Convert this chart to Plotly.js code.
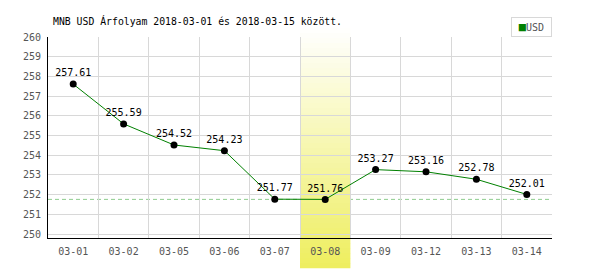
<!DOCTYPE html>
<html>
<head>
<meta charset="utf-8">
<script src="https://cdn.plot.ly/plotly-3.0.1.min.js"></script>
<style>html,body{margin:0;padding:0;background:#fff;}#chart{width:600px;height:270px;}</style>
</head>
<body>
<div id="chart"></div>
<script>
// Data
var categories = ['03-01','03-02','03-05','03-06','03-07','03-08','03-09','03-12','03-13','03-14'];
var usdValues = [257.61, 255.59, 254.52, 254.23, 251.77, 251.76, 253.27, 253.16, 252.78, 252.01];
var yTicks = [250, 251, 252, 253, 254, 255, 256, 257, 258, 259, 260];
var highlightCategory = '03-08';
var seriesName = 'USD';
var titleText = 'MNB USD Árfolyam 2018-03-01 és 2018-03-15 között.';

var mono = 'DejaVu Sans Mono, monospace';
var labels = usdValues.map(function(v){ return v.toFixed(2); });

var trace = {
  type: 'scatter',
  mode: 'lines+markers+text',
  x: categories,
  y: usdValues,
  text: labels,
  textposition: 'top center',
  textfont: {family: mono, size: 10, color: '#000'},
  line: {color: '#008000', width: 1},
  marker: {color: '#000', size: 7},
  cliponaxis: false,
  showlegend: false,
  hoverinfo: 'skip'
};

// highlight band (vertical gradient white -> yellow) built from thin strips
var shapes = [];
var minVal = Math.min.apply(null, usdValues);
shapes.push({
  type: 'line', layer: 'below', xref: 'paper', yref: 'y',
  x0: 0, x1: 1, y0: minVal, y1: minVal,
  line: {color: '#8fcc8f', width: 1, dash: '4px,3px'}
});
var hi = categories.indexOf(highlightCategory);
var bandTop = 1.045, bandBottom = -0.149, nStrips = 48;
var c0 = [255, 255, 255], c1 = [238, 238, 94];
for (var i = 0; i < nStrips; i++) {
  var f = (i + 0.5) / nStrips;
  var col = 'rgb(' + c0.map(function(c, k){ return Math.round(c + (c1[k] - c) * f); }).join(',') + ')';
  var yTop = bandTop - (bandTop - bandBottom) * i / nStrips;
  var yBot = bandTop - (bandTop - bandBottom) * (i + 1) / nStrips;
  shapes.push({
    type: 'rect', layer: 'between', xref: 'x', yref: 'paper',
    x0: hi - 0.5, x1: hi + 0.5, y0: yBot - 0.002, y1: yTop,
    fillcolor: col, line: {width: 0}
  });
}

var layout = {
  width: 600, height: 270,
  margin: {l: 48, r: 48, t: 37, b: 32, pad: 0},
  paper_bgcolor: '#fff', plot_bgcolor: 'rgba(0,0,0,0)',
  title: {
    text: titleText,
    font: {family: mono, size: 9.8, color: '#000'},
    xref: 'container', x: 53/600, xanchor: 'left',
    yref: 'container', y: 1 - 22/270, yanchor: 'middle'
  },
  xaxis: {
    type: 'category',
    range: [-0.5, categories.length - 0.5],
    tickson: 'boundaries',
    ticks: '',
    showgrid: true, gridcolor: '#d8d8d8', gridwidth: 1,
    showline: true, linecolor: '#000', linewidth: 1,
    zeroline: false,
    tickfont: {family: mono, size: 10, color: '#555'},
    ticklabelstandoff: 4,
    fixedrange: true
  },
  yaxis: {
    range: [249.8, 260],
    tickvals: yTicks,
    ticktext: yTicks.map(String),
    ticks: '',
    showgrid: true, gridcolor: '#d8d8d8', gridwidth: 1,
    showline: true, linecolor: '#000', linewidth: 1,
    zeroline: false,
    tickfont: {family: mono, size: 10, color: '#555'},
    ticklabelstandoff: 4,
    fixedrange: true
  },
  shapes: shapes,
  annotations: [{
    xref: 'paper', yref: 'paper', x: 1, y: 1, xanchor: 'right', yanchor: 'bottom',
    text: '<span style="color:#008000;font-size:12px">■</span>' + seriesName,
    showarrow: false,
    font: {family: mono, size: 10, color: '#555'},
    bordercolor: '#d8d8d8', borderwidth: 1, borderpad: 0,
    bgcolor: '#fff', width: 39, height: 18
  }],
  showlegend: false
};

Plotly.newPlot('chart', [trace], layout, {displayModeBar: false, staticPlot: true});
</script>
</body>
</html>
